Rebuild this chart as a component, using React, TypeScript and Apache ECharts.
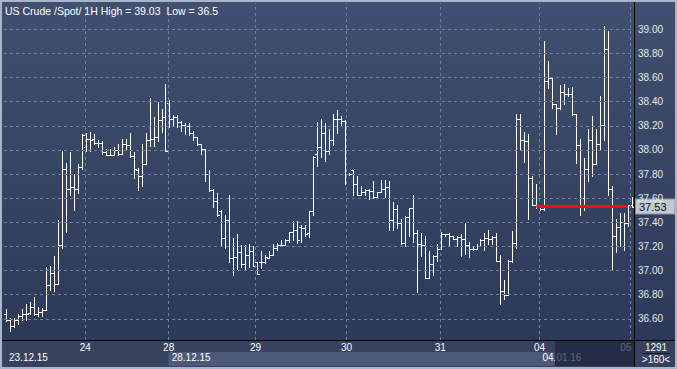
import React, { useEffect, useRef } from "react";
import * as echarts from "echarts";

// OHLC hourly bars
const opens = [
  36.64, 36.59, 36.54, 36.59, 36.62, 36.64, 36.65, 36.70, 36.64, 36.66,
  36.67, 36.88, 36.98, 36.89, 37.21, 37.84, 37.68, 37.69, 37.68, 37.86,
  38.02, 38.09, 38.09, 38.06, 38.06, 37.98, 37.96, 37.96, 38.00, 37.97,
  38.05, 38.04, 37.95, 37.83, 37.78, 37.88, 38.08, 38.09, 38.11, 38.25,
  38.27, 38.39, 38.26, 38.27, 38.23, 38.21, 38.20, 38.14, 38.11, 38.05,
  38.01, 37.80, 37.67, 37.58, 37.49, 37.27, 37.42, 37.10, 37.11, 37.15,
  37.05, 37.13, 37.16, 37.07, 37.07, 37.07, 37.10, 37.13, 37.19, 37.21,
  37.21, 37.25, 37.32, 37.34, 37.36, 37.35, 37.31, 37.49, 37.97, 38.02,
  38.14, 37.99, 38.08, 38.26, 38.26, 38.24, 37.80, 37.83, 37.72, 37.63,
  37.65, 37.67, 37.66, 37.61, 37.65, 37.68, 37.69, 37.42, 37.51, 37.39,
  37.23, 37.44, 37.52, 37.31, 37.22, 37.21, 36.94, 37.05, 37.12, 37.18,
  37.30, 37.30, 37.29, 37.26, 37.28, 37.26, 37.21, 37.18, 37.18, 37.20,
  37.25, 37.27, 37.26, 37.28, 37.08, 36.83, 36.80, 37.08, 37.23, 38.26,
  38.08, 38.07, 37.77, 37.54, 37.53, 37.51, 38.57, 38.60, 38.38, 38.35,
  38.48, 38.46, 38.46, 38.30, 38.04, 37.60, 37.84, 38.08, 37.88, 38.05,
  38.21, 38.84, 37.68, 37.29, 37.36, 37.40, 37.39, 37.54,
];
const highs = [
  36.68, 36.61, 36.61, 36.64, 36.68, 36.72, 36.74, 36.78, 36.70, 36.69,
  37.03, 37.04, 37.12, 37.42, 37.99, 37.89, 37.98, 37.80, 37.88, 38.13,
  38.14, 38.15, 38.13, 38.08, 38.07, 38.01, 38.01, 38.02, 38.05, 38.09,
  38.09, 38.14, 37.98, 37.85, 38.05, 38.14, 38.43, 38.27, 38.40, 38.34,
  38.55, 38.41, 38.29, 38.29, 38.24, 38.22, 38.22, 38.16, 38.11, 38.05,
  38.01, 37.83, 37.68, 37.64, 37.50, 37.46, 37.63, 37.27, 37.30, 37.21,
  37.21, 37.22, 37.20, 37.07, 37.16, 37.13, 37.16, 37.22, 37.23, 37.25,
  37.26, 37.32, 37.41, 37.41, 37.38, 37.38, 37.49, 37.95, 38.23, 38.26,
  38.22, 38.17, 38.30, 38.33, 38.28, 38.25, 37.81, 37.83, 37.78, 37.70,
  37.68, 37.68, 37.74, 37.65, 37.75, 37.75, 37.74, 37.57, 37.54, 37.43,
  37.45, 37.52, 37.63, 37.34, 37.31, 37.29, 37.16, 37.13, 37.22, 37.32,
  37.30, 37.31, 37.29, 37.29, 37.30, 37.39, 37.24, 37.20, 37.22, 37.26,
  37.31, 37.34, 37.29, 37.31, 37.13, 36.92, 37.09, 37.33, 38.30, 38.30,
  38.15, 38.13, 37.78, 37.72, 37.54, 38.90, 38.74, 38.60, 38.38, 38.54,
  38.55, 38.51, 38.52, 38.30, 38.09, 37.93, 38.17, 38.28, 38.17, 38.45,
  39.03, 38.99, 37.70, 37.43, 37.48, 37.48, 37.54, 37.61,
];
const lows = [
  36.58, 36.50, 36.53, 36.56, 36.59, 36.59, 36.64, 36.63, 36.62, 36.62,
  36.67, 36.84, 36.83, 36.89, 37.19, 37.32, 37.63, 37.50, 37.64, 37.84,
  37.99, 37.99, 38.05, 38.02, 37.97, 37.96, 37.96, 37.96, 37.96, 37.97,
  38.01, 37.94, 37.77, 37.67, 37.70, 37.88, 38.03, 38.03, 38.07, 38.15,
  37.99, 38.19, 38.20, 38.19, 38.16, 38.13, 38.12, 38.08, 38.04, 37.97,
  37.74, 37.66, 37.53, 37.45, 37.21, 37.19, 37.07, 36.96, 37.01, 37.03,
  37.01, 37.03, 37.04, 36.97, 37.02, 37.06, 37.10, 37.13, 37.17, 37.20,
  37.21, 37.24, 37.25, 37.23, 37.24, 37.29, 37.28, 37.46, 37.87, 37.94,
  37.91, 37.97, 38.04, 38.14, 38.21, 37.72, 37.79, 37.63, 37.63, 37.63,
  37.63, 37.59, 37.60, 37.61, 37.65, 37.61, 37.34, 37.34, 37.35, 37.22,
  37.20, 37.29, 37.24, 36.82, 37.12, 36.94, 36.94, 36.96, 37.08, 37.18,
  37.29, 37.20, 37.26, 37.20, 37.12, 37.14, 37.11, 37.17, 37.18, 37.20,
  37.17, 37.22, 37.22, 37.08, 36.72, 36.76, 36.80, 37.07, 37.19, 38.01,
  37.90, 37.43, 37.54, 37.52, 37.50, 37.50, 38.51, 38.35, 38.13, 38.34,
  38.38, 38.45, 38.29, 37.89, 37.46, 37.50, 37.74, 37.78, 37.88, 38.00,
  38.08, 37.63, 37.01, 37.15, 37.20, 37.17, 37.37, 37.53,
];
const closes = [
  36.59, 36.54, 36.59, 36.62, 36.64, 36.64, 36.70, 36.64, 36.66, 36.67,
  36.88, 36.98, 36.89, 37.21, 37.84, 37.68, 37.69, 37.68, 37.86, 38.12,
  38.09, 38.08, 38.06, 38.06, 37.98, 37.96, 37.96, 38.00, 37.97, 38.05,
  38.04, 37.95, 37.84, 37.78, 37.88, 38.08, 38.09, 38.11, 38.25, 38.27,
  37.99, 38.26, 38.27, 38.23, 38.21, 38.20, 38.14, 38.11, 38.05, 38.01,
  37.80, 37.67, 37.58, 37.46, 37.27, 37.42, 37.10, 37.11, 37.15, 37.05,
  37.13, 37.16, 37.04, 36.97, 37.07, 37.11, 37.13, 37.19, 37.21, 37.21,
  37.25, 37.32, 37.34, 37.25, 37.35, 37.30, 37.49, 37.94, 38.02, 38.14,
  37.99, 38.08, 38.26, 38.26, 38.24, 37.80, 37.80, 37.72, 37.63, 37.65,
  37.67, 37.66, 37.61, 37.65, 37.68, 37.69, 37.42, 37.51, 37.39, 37.23,
  37.44, 37.52, 37.31, 37.22, 37.21, 36.94, 37.05, 37.12, 37.18, 37.30,
  37.30, 37.29, 37.26, 37.28, 37.26, 37.21, 37.18, 37.18, 37.20, 37.25,
  37.27, 37.26, 37.28, 37.08, 36.83, 36.80, 37.08, 37.23, 38.26, 38.08,
  38.07, 37.77, 37.54, 37.54, 37.51, 38.57, 38.60, 38.38, 38.35, 38.48,
  38.46, 38.46, 38.30, 38.04, 37.60, 37.84, 38.08, 37.88, 38.05, 38.21,
  38.84, 37.68, 37.29, 37.36, 37.40, 37.39, 37.54, 37.53,
];

const yTicks = [36.6, 36.8, 37.0, 37.2, 37.4, 37.6, 37.8, 38.0, 38.2, 38.4, 38.6, 38.8, 39.0];
const dayIdx = [19.9, 40.8, 62.6, 85.4, 108.9, 133.8, 156.6];
const dayLabels = ["24", "28", "29", "30", "31", "04", "05"];
const weekIdx = [0, 40.8, 133.8];
const weekLabels = ["23.12.15", "28.12.15", "04.01.16"];
const lastPrice = 37.53;
const refLineFrom = 133;
const refLineTo = 156;
const instrument = "US Crude /Spot/ 1H";
const counterText = "1291";
const zoomText = ">160<";

const W = 677;
const H = 369;
const GRID_LEFT = 4;
const GRID_RIGHT_X = 634;
const GRID_TOP = 3;
const GRID_BOTTOM_Y = 340;
const FONT = "Liberation Sans, Arial, sans-serif";

export default function App() {
  const ref = useRef<HTMLDivElement>(null);
  useEffect(() => {
    if (!ref.current) return;
    const chart = echarts.init(ref.current, undefined, { renderer: "svg" });
    const ohlc = opens.map((o, i) => [i, o, highs[i], lows[i], closes[i]]);
    const hi = Math.max(...highs);
    const lo = Math.min(...lows);
    const n = opens.length;
    const lastDay = dayIdx[dayIdx.length - 1];

    const renderItem = (params: any, api: any) => {
      const x = api.value(0);
      const pO = api.coord([x, api.value(1)]);
      const pH = api.coord([x, api.value(2)]);
      const pL = api.coord([x, api.value(3)]);
      const pC = api.coord([x, api.value(4)]);
      const cx = Math.round(pH[0]) + 0.5;
      const st = { stroke: "#ffffff", lineWidth: 1 };
      return {
        type: "group",
        children: [
          { type: "line", shape: { x1: cx, y1: Math.round(pH[1]), x2: cx, y2: Math.round(pL[1]) + 1 }, style: st },
          { type: "line", shape: { x1: cx - 2.5, y1: Math.round(pO[1]) + 0.5, x2: cx, y2: Math.round(pO[1]) + 0.5 }, style: st },
          { type: "line", shape: { x1: cx, y1: Math.round(pC[1]) + 0.5, x2: cx + 2.5, y2: Math.round(pC[1]) + 0.5 }, style: st },
        ],
      };
    };

    const option: any = {
      animation: false,
      backgroundColor: new echarts.graphic.LinearGradient(0, 0, 0, 1, [
        { offset: 0, color: "#415070" },
        { offset: 1, color: "#2b3756" },
      ]),
      grid: { left: GRID_LEFT, right: W - GRID_RIGHT_X, top: GRID_TOP, bottom: H - GRID_BOTTOM_Y },
      xAxis: [
        {
          type: "value",
          min: -0.5,
          max: n - 0.5,
          z: 5,
          axisLine: { show: false },
          axisTick: { show: false },
          splitLine: { show: false },
          axisLabel: {
            customValues: dayIdx,
            formatter: (v: number) => {
              const t = dayLabels[dayIdx.indexOf(v)] ?? "";
              return v === lastDay ? `{r|${t}}` : t;
            },
            rich: { r: { padding: [0, 9, 0, 0], color: "#ffffff", fontSize: 10, fontFamily: FONT } },
            color: "#ffffff",
            fontSize: 10,
            fontFamily: FONT,
            margin: 2,
            showMinLabel: true,
            showMaxLabel: true,
          },
        },
        {
          type: "value",
          min: -0.5,
          max: n - 0.5,
          position: "bottom",
          offset: 10,
          z: 5,
          axisLine: { show: false },
          axisTick: { show: false },
          splitLine: { show: false },
          axisLabel: {
            customValues: weekIdx,
            formatter: (v: number) => weekLabels[weekIdx.indexOf(v)] ?? "",
            color: "#ffffff",
            fontSize: 10,
            fontFamily: FONT,
            align: "left",
            padding: [0, 0, 0, 3],
            margin: 2,
            showMinLabel: true,
            showMaxLabel: true,
          },
        },
      ],
      yAxis: {
        type: "value",
        position: "right",
        min: 36.424,
        max: 39.218,
        z: 5,
        axisLine: { show: false },
        axisTick: { show: false },
        splitLine: { show: false },
        axisLabel: {
          customValues: yTicks,
          formatter: (v: number) => v.toFixed(2),
          color: "#e4e8f0",
          fontSize: 10,
          fontFamily: FONT,
          margin: 4,
          showMinLabel: true,
          showMaxLabel: true,
        },
      },
      series: [
        {
          type: "line",
          data: [],
          z: 1,
          silent: true,
          markLine: {
            silent: true,
            symbol: "none",
            label: { show: false },
            lineStyle: { color: "#6e7f9f", type: [3, 3], width: 1 },
            data: [...dayIdx.map((v) => ({ xAxis: v })), ...yTicks.map((v) => ({ yAxis: v }))],
          },
        },
        {
          type: "custom",
          name: instrument,
          data: ohlc,
          renderItem,
          z: 3,
          encode: { x: 0, y: [1, 2, 3, 4] },
        },
        {
          type: "line",
          data: [],
          z: 4,
          silent: true,
          markLine: {
            silent: true,
            symbol: "none",
            label: { show: false },
            lineStyle: { color: "#e8101e", width: 3, type: "solid" },
            data: [[{ coord: [refLineFrom, lastPrice] }, { coord: [refLineTo, lastPrice] }]],
          },
        },
        {
          type: "line",
          data: [],
          z: 8,
          silent: true,
          markLine: {
            silent: true,
            symbol: "none",
            lineStyle: { color: "rgba(0,0,0,0)", width: 0 },
            label: {
              show: true,
              position: "end",
              distance: 2,
              formatter: lastPrice.toFixed(2),
              backgroundColor: "#c4c8d0",
              borderColor: "#8a93a4",
              borderWidth: 1,
              color: "#0c1424",
              fontSize: 11,
              fontFamily: FONT,
              padding: [2, 8, 1, 3],
            },
            data: [{ yAxis: lastPrice }],
          },
        },
      ],
      graphic: [
        // bottom strip
        { type: "rect", z: 1, shape: { x: 0, y: GRID_BOTTOM_Y, width: W, height: H - GRID_BOTTOM_Y }, style: { fill: "#36425e" } },
        { type: "rect", z: 2, shape: { x: 168.5, y: 352, width: 386, height: 14 }, style: { fill: "#4c5a78" } },
        { type: "rect", z: 10, shape: { x: 555, y: 341, width: GRID_RIGHT_X - 555, height: 25 }, style: { fill: "rgba(30,38,58,0.72)" } },
        // title
        {
          type: "text",
          z: 10,
          x: 5,
          y: 5,
          style: {
            text: `${instrument} High = ${hi.toFixed(2)}  Low = ${lo}`,
            fill: "#ffffff",
            fontSize: 10.5,
            fontFamily: FONT,
          },
        },
        // counter box
        { type: "text", z: 10, x: 656, y: 342, style: { text: counterText, fill: "#ffffff", fontSize: 10, fontFamily: FONT, align: "center" } },
        { type: "line", z: 10, shape: { x1: 642, y1: 353.5, x2: 670, y2: 353.5 }, style: { stroke: "#0c1020", lineWidth: 1 } },
        { type: "text", z: 10, x: 656, y: 354, style: { text: zoomText, fill: "#ffffff", fontSize: 10, fontFamily: FONT, align: "center" } },
        // black separators
        { type: "line", z: 20, shape: { x1: 0, y1: GRID_BOTTOM_Y + 0.5, x2: W, y2: GRID_BOTTOM_Y + 0.5 }, style: { stroke: "#000000", lineWidth: 1 } },
        { type: "line", z: 20, shape: { x1: GRID_RIGHT_X + 0.5, y1: 0, x2: GRID_RIGHT_X + 0.5, y2: H }, style: { stroke: "#000000", lineWidth: 1 } },
        // outer frame
        { type: "rect", z: 30, shape: { x: 1, y: 1, width: W - 2, height: H - 2 }, style: { fill: "none", stroke: "#a8b6cc", lineWidth: 2 } },
      ],
    };
    chart.setOption(option);
    return () => chart.dispose();
  }, []);
  return <div ref={ref} style={{ position: "fixed", left: 0, top: 0, width: W, height: H }} />;
}
